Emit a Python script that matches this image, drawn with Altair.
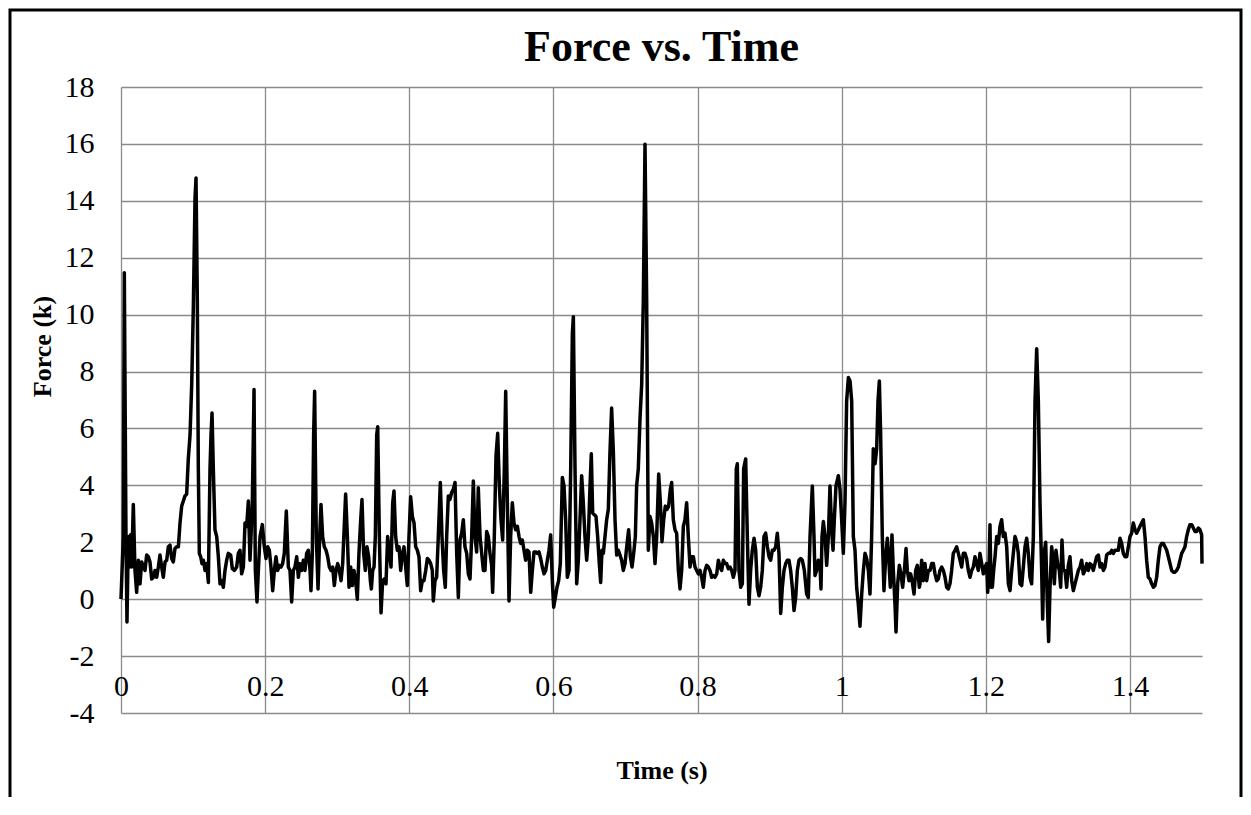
import altair as alt
import pandas as pd

# ---- data (time in s, force in k) ----
t_a = [0.0, 0.0032, 0.0046, 0.0069, 0.0083, 0.0102, 0.0116, 0.0134, 0.0148, 0.0171, 0.0194, 0.0217, 0.0241, 0.0264, 0.0287, 0.0310, 0.0333, 0.0356, 0.0379, 0.0402, 0.0426, 0.0449, 0.0472, 0.0495, 0.0518, 0.0541, 0.0564, 0.0587, 0.0611, 0.0634, 0.0657, 0.0680, 0.0703, 0.0726, 0.0749, 0.0773, 0.0796, 0.0819, 0.0842, 0.0865, 0.0888, 0.0911, 0.0934, 0.0958, 0.0981, 0.1004, 0.1027, 0.1041, 0.1059, 0.1073, 0.1087, 0.1106, 0.1124, 0.1143, 0.1166, 0.1189, 0.1212, 0.1235, 0.1249, 0.1263, 0.1281, 0.1304, 0.1328, 0.1351, 0.1374, 0.1397, 0.1420, 0.1443, 0.1466, 0.1489]
f_a = [0.0, 2.2, 11.47, 2.2, -0.8, 2.2, 1.13, 2.26, 1.13, 3.33, 1.01, 0.24, 1.37, 0.54, 1.31, 1.13, 1.01, 1.55, 1.49, 1.31, 0.71, 0.77, 1.01, 0.77, 1.13, 1.55, 1.13, 0.77, 1.31, 1.37, 1.84, 1.90, 1.43, 1.31, 1.78, 1.84, 1.84, 2.68, 3.27, 3.45, 3.63, 3.69, 4.93, 5.77, 7.55, 10.29, 14.09, 14.80, 10.52, 4.58, 1.61, 1.49, 1.25, 1.37, 1.01, 1.25, 0.59, 4.58, 5.77, 6.54, 4.58, 2.44, 2.20, 1.49, 0.54, 0.65, 0.42, 1.01, 1.37, 1.61]

t_b = [0.1522, 0.1545, 0.1573, 0.1605, 0.1628, 0.1651, 0.1674, 0.1698, 0.1721, 0.1744, 0.1767, 0.1790, 0.1804, 0.1822, 0.1846, 0.1864, 0.1887, 0.1906, 0.1929, 0.1961, 0.1989, 0.2012, 0.2035, 0.2058, 0.2081, 0.2105, 0.2128, 0.2151, 0.2174, 0.2197, 0.2220, 0.2243, 0.2266, 0.2294, 0.2322, 0.2345, 0.2368, 0.2391, 0.2414, 0.2438, 0.2461, 0.2484, 0.2507, 0.2530, 0.2553, 0.2576, 0.2599, 0.2623, 0.2636, 0.2655, 0.2673, 0.2687, 0.2710, 0.2734, 0.2757, 0.2775, 0.2798, 0.2821, 0.2845, 0.2868, 0.2891, 0.2914, 0.2937, 0.2960, 0.2983, 0.3007, 0.3030, 0.3053, 0.3076]
f_b = [1.55, 1.07, 1.01, 1.13, 1.61, 1.72, 0.89, 1.13, 2.68, 2.56, 3.45, 1.37, 2.20, 3.39, 7.37, 1.01, -0.1, 1.01, 2.20, 2.62, 1.84, 1.43, 1.84, 1.72, 1.13, 0.30, 1.01, 1.49, 1.01, 1.19, 1.13, 1.25, 1.61, 3.1, 1.13, 1.01, -0.1, 1.01, 1.13, 1.49, 0.77, 1.25, 1.01, 1.37, 1.01, 1.61, 1.72, 1.01, 0.30, 1.61, 5.77, 7.31, 2.20, 0.36, 2.20, 3.33, 2.20, 1.84, 1.72, 1.49, 1.13, 1.01, 1.13, 0.48, 1.01, 1.25, 1.01, 0.65, 1.25]

t_c = [0.3117, 0.3141, 0.3164, 0.3187, 0.3210, 0.3233, 0.3256, 0.3279, 0.3302, 0.3326, 0.3344, 0.3367, 0.3390, 0.3413, 0.3437, 0.3460, 0.3474, 0.3492, 0.3511, 0.3529, 0.3548, 0.3562, 0.3585, 0.3608, 0.3631, 0.3654, 0.3677, 0.3700, 0.3723, 0.3747, 0.3770, 0.3788, 0.3811, 0.3834, 0.3858, 0.3881, 0.3904, 0.3927, 0.3950, 0.3973, 0.3996, 0.4019, 0.4043, 0.4066, 0.4089, 0.4112, 0.4135, 0.4158, 0.4181, 0.4204, 0.4228, 0.4251, 0.4274, 0.4297, 0.4320, 0.4334, 0.4357, 0.4380, 0.4403, 0.4431, 0.4454, 0.4477, 0.4500, 0.4519, 0.4542, 0.4565, 0.4588, 0.4611, 0.4635]
f_c = [3.7, 2.20, 0.42, 1.13, 0.48, 1.01, 0.65, 0.0, 1.61, 2.79, 3.5, 1.61, 1.01, 1.84, 1.49, 0.65, 0.36, 1.01, 1.13, 2.20, 5.77, 6.06, 2.20, -0.48, 0.65, 0.71, 0.54, 2.20, 1.66, 1.13, 3.39, 3.80, 2.20, 1.72, 1.84, 1.01, 1.61, 1.84, 1.13, 0.48, 2.20, 3.6, 2.91, 2.68, 1.84, 1.72, 1.49, 0.30, 0.65, 0.65, 1.01, 1.43, 1.37, 1.25, 1.01, -0.06, 0.65, 0.77, 2.20, 4.10, 2.20, 1.01, 0.42, 2.20, 3.63, 3.51, 3.75, 3.86, 4.10]

t_d = [0.4658, 0.4681, 0.4704, 0.4727, 0.4750, 0.4773, 0.4797, 0.4820, 0.4843, 0.4866, 0.4889, 0.4912, 0.4935, 0.4958, 0.4982, 0.5005, 0.5028, 0.5051, 0.5074, 0.5097, 0.5120, 0.5143, 0.5157, 0.5180, 0.5204, 0.5227, 0.5250, 0.5273, 0.5296, 0.5319, 0.5338, 0.5361, 0.5384, 0.5407, 0.5430, 0.5453, 0.5476, 0.5500, 0.5523, 0.5546, 0.5569, 0.5592, 0.5615, 0.5638, 0.5661, 0.5685, 0.5708, 0.5731, 0.5754, 0.5777, 0.5800, 0.5823, 0.5846, 0.5870, 0.5893, 0.5916, 0.5939, 0.5962, 0.5985, 0.6004, 0.6027, 0.6050, 0.6073, 0.6096, 0.6124, 0.6147, 0.6170, 0.6193, 0.6217, 0.6240, 0.6263, 0.6277]
f_d = [1.61, 0.06, 2.08, 2.32, 2.79, 1.84, 1.61, 0.89, 0.71, 2.20, 4.15, 2.20, 1.66, 3.92, 2.20, 1.61, 1.01, 1.01, 2.38, 2.20, 1.61, 1.19, 0.24, 2.20, 5.05, 5.83, 3.98, 2.79, 2.08, 4.58, 7.31, 3.39, -0.06, 2.20, 3.39, 2.68, 2.44, 2.56, 2.20, 1.96, 2.08, 1.72, 1.37, 1.72, 1.66, 0.24, 1.01, 1.66, 1.66, 1.61, 1.66, 1.43, 1.13, 0.89, 1.01, 1.37, 1.72, 2.26, 0.65, -0.28, 0.06, 0.42, 0.65, 1.25, 4.28, 3.98, 2.79, 0.77, 1.01, 4.58, 9.33, 9.93]

t_e = [0.6300, 0.6323, 0.6346, 0.6369, 0.6392, 0.6415, 0.6438, 0.6462, 0.6485, 0.6508, 0.6526, 0.6545, 0.6568, 0.6591, 0.6614, 0.6637, 0.6656, 0.6674, 0.6693, 0.6716, 0.6739, 0.6762, 0.6785, 0.6808, 0.6832, 0.6855, 0.6878, 0.6901, 0.6924, 0.6947, 0.6970, 0.6994, 0.7017, 0.7044, 0.7068, 0.7091, 0.7114, 0.7137, 0.7155, 0.7178, 0.7202, 0.7225, 0.7248, 0.7271, 0.7294, 0.7317, 0.7340, 0.7363, 0.7387, 0.7410, 0.7433, 0.7461, 0.7484, 0.7507, 0.7530, 0.7553, 0.7576, 0.7599, 0.7623, 0.7641, 0.7664, 0.7687, 0.7710, 0.7734, 0.7757, 0.7780, 0.7803, 0.7826, 0.7849, 0.7872]
f_e = [4.58, 0.54, 1.37, 2.79, 4.34, 3.39, 2.20, 1.37, 2.20, 3.98, 5.11, 3.03, 2.97, 2.91, 2.20, 1.25, 0.59, 1.72, 1.61, 2.20, 2.79, 3.15, 5.17, 6.72, 5.17, 2.79, 1.55, 1.72, 1.55, 1.37, 1.01, 1.25, 1.84, 2.44, 1.49, 1.13, 1.61, 2.20, 3.98, 4.58, 6.36, 7.55, 10.52, 15.99, 10.52, 1.72, 2.91, 2.68, 2.20, 1.25, 2.20, 4.40, 3.39, 2.02, 2.79, 3.27, 3.15, 3.27, 3.86, 4.10, 2.79, 2.44, 2.32, 1.01, 0.36, 1.01, 2.56, 2.79, 3.39, 2.20]

t_f = [0.7896, 0.7919, 0.7942, 0.7965, 0.7988, 0.8011, 0.8034, 0.8057, 0.8080, 0.8104, 0.8127, 0.8150, 0.8173, 0.8196, 0.8219, 0.8242, 0.8266, 0.8289, 0.8312, 0.8335, 0.8358, 0.8381, 0.8404, 0.8427, 0.8451, 0.8474, 0.8497, 0.8520, 0.8538, 0.8552, 0.8575, 0.8599, 0.8622, 0.8640, 0.8668, 0.8691, 0.8714, 0.8737, 0.8760, 0.8784, 0.8807, 0.8830, 0.8853, 0.8876, 0.8899, 0.8922, 0.8945, 0.8969, 0.8992, 0.9015, 0.9038, 0.9061, 0.9084, 0.9107, 0.9130, 0.9154, 0.9177, 0.9200, 0.9223, 0.9246, 0.9269, 0.9292, 0.9315, 0.9339, 0.9362, 0.9385, 0.9408, 0.9431, 0.9454, 0.9482]
f_f = [1.13, 1.49, 1.49, 1.13, 1.01, 0.89, 1.01, 0.77, 0.42, 1.01, 1.19, 1.13, 1.01, 0.77, 0.83, 0.77, 0.89, 1.37, 1.13, 1.01, 1.37, 1.25, 1.25, 1.07, 1.13, 1.01, 0.77, 1.01, 4.58, 4.76, 1.01, 0.42, 0.54, 4.58, 4.93, 2.20, -0.18, 1.01, 1.72, 2.14, 1.72, 0.42, 0.12, 0.42, 1.01, 2.20, 2.32, 1.84, 1.49, 1.37, 1.72, 1.72, 1.84, 2.32, 1.61, -0.5, 0.42, 1.01, 1.25, 1.37, 1.37, 1.01, 0.42, -0.4, 0.06, 1.01, 1.37, 1.43, 1.37, 1.01]

t_g = [0.9514, 0.9537, 0.9561, 0.9593, 0.9616, 0.9630, 0.9653, 0.9676, 0.9699, 0.9713, 0.9727, 0.9746, 0.9769, 0.9792, 0.9815, 0.9838, 0.9861, 0.9880, 0.9898, 0.9921, 0.9954, 0.9977, 1.0000, 1.0023, 1.0046, 1.0069, 1.0093, 1.0116, 1.0139, 1.0162, 1.0185, 1.0208, 1.0231, 1.0254, 1.0278, 1.0301, 1.0324, 1.0347, 1.0370, 1.0393, 1.0416, 1.0439, 1.0463, 1.0486, 1.0504, 1.0523, 1.0541, 1.0564, 1.0587, 1.0611, 1.0634, 1.0657, 1.0675, 1.0698, 1.0717, 1.0740, 1.0754, 1.0777, 1.0800, 1.0823, 1.0846, 1.0870, 1.0893, 1.0911, 1.0934, 1.0957, 1.0981, 1.1004, 1.1027, 1.1050, 1.1078]
f_g = [0.18, 0.06, 2.20, 3.98, 2.20, 0.83, 1.01, 1.37, 1.25, 0.36, 2.20, 2.73, 2.20, 1.19, 2.20, 3.98, 2.44, 1.72, 2.79, 3.98, 4.34, 3.86, 2.79, 1.61, 3.39, 6.96, 7.79, 7.67, 6.96, 2.20, 1.72, 0.42, -0.18, -0.95, 0.18, 1.01, 1.61, 1.43, 1.01, 0.18, 2.20, 5.29, 4.76, 5.29, 6.96, 7.67, 5.77, 2.20, 0.30, 1.49, 2.14, 1.25, 0.42, 2.26, 1.01, -0.18, -1.15, 0.54, 1.19, 0.89, 0.42, 1.01, 1.78, 1.01, 0.65, 0.89, 0.59, 0.18, 1.01, 1.19, 0.42]

t_h = [1.1087, 1.1110, 1.1133, 1.1156, 1.1179, 1.1203, 1.1226, 1.1249, 1.1272, 1.1295, 1.1318, 1.1341, 1.1364, 1.1388, 1.1411, 1.1434, 1.1457, 1.1480, 1.1503, 1.1526, 1.1549, 1.1573, 1.1596, 1.1619, 1.1642, 1.1665, 1.1688, 1.1711, 1.1734, 1.1758, 1.1781, 1.1804, 1.1827, 1.1850, 1.1873, 1.1896, 1.1919, 1.1943, 1.1966, 1.1989, 1.2012, 1.2026, 1.2044, 1.2058, 1.2072, 1.2091, 1.2109, 1.2128, 1.2151, 1.2174, 1.2197, 1.2220, 1.2243, 1.2266, 1.2290, 1.2313, 1.2336, 1.2359, 1.2382, 1.2405, 1.2428, 1.2451, 1.2475, 1.2498, 1.2521, 1.2544, 1.2567, 1.2590, 1.2613, 1.2636]
f_h = [0.54, 1.37, 0.65, 1.25, 0.65, 1.01, 1.01, 1.25, 1.25, 0.89, 0.65, 0.71, 1.01, 1.13, 1.01, 0.77, 0.42, 0.36, 0.54, 1.01, 1.61, 1.72, 1.84, 1.61, 1.37, 1.13, 1.61, 1.61, 1.43, 1.01, 0.77, 1.01, 1.13, 1.49, 1.25, 1.01, 1.61, 1.25, 0.89, 1.13, 1.25, 0.24, 1.01, 2.62, 0.42, 0.42, 1.01, 1.49, 2.20, 1.96, 2.56, 2.79, 2.20, 2.32, 1.84, 0.54, 0.30, 1.01, 1.61, 2.20, 2.02, 1.61, 0.54, 0.48, 1.13, 1.84, 2.14, 1.61, 0.77, 0.54]

t_i = [1.2660, 1.2683, 1.2706, 1.2729, 1.2752, 1.2775, 1.2789, 1.2808, 1.2831, 1.2854, 1.2872, 1.2891, 1.2914, 1.2932, 1.2951, 1.2974, 1.2997, 1.3020, 1.3039, 1.3057, 1.3076, 1.3099, 1.3122, 1.3145, 1.3168, 1.3192, 1.3215, 1.3238, 1.3261, 1.3284, 1.3307, 1.3330, 1.3353, 1.3377, 1.3400, 1.3423, 1.3446, 1.3469, 1.3492, 1.3515, 1.3538, 1.3562, 1.3585, 1.3608, 1.3631, 1.3654, 1.3677, 1.3700, 1.3723, 1.3747, 1.3770, 1.3793, 1.3816, 1.3839, 1.3862, 1.3885, 1.3908, 1.3932, 1.3955, 1.3978, 1.4001, 1.4024, 1.4047, 1.4070, 1.4093, 1.4117, 1.4140, 1.4163, 1.4186, 1.4209, 1.4232, 1.4255]
f_i = [2.20, 6.96, 8.80, 6.96, 3.39, 1.01, -0.7, 1.61, 2.0, -0.18, -1.49, 0.42, 1.84, 1.43, 0.54, 1.72, 1.25, 1.01, 0.42, 2.08, 1.01, 1.01, 0.42, 1.19, 1.49, 0.65, 0.30, 0.54, 0.77, 1.01, 1.13, 1.37, 0.89, 1.01, 1.25, 1.01, 1.25, 1.19, 1.01, 1.25, 1.49, 1.55, 1.13, 1.25, 1.01, 1.13, 1.55, 1.61, 1.61, 1.72, 1.61, 1.72, 1.72, 1.72, 2.14, 1.96, 1.61, 1.49, 1.49, 1.84, 2.20, 2.32, 2.68, 2.44, 2.32, 2.44, 2.56, 2.68, 2.79, 2.20, 1.37, 0.77]

t_j = [1.4278, 1.4302, 1.4325, 1.4348, 1.4371, 1.4394, 1.4417, 1.4440, 1.4463, 1.4487, 1.4510, 1.4533, 1.4556, 1.4579, 1.4602, 1.4625, 1.4648, 1.4672, 1.4695, 1.4718, 1.4741, 1.4764, 1.4787, 1.4810, 1.4833, 1.4857, 1.4880, 1.4903, 1.4926, 1.4949, 1.4972, 1.4995, 1.5]
f_j = [0.71, 0.54, 0.42, 0.48, 0.77, 1.37, 1.84, 1.96, 1.96, 1.84, 1.72, 1.49, 1.25, 1.01, 0.95, 0.95, 1.01, 1.13, 1.37, 1.61, 1.72, 1.84, 2.20, 2.44, 2.62, 2.62, 2.50, 2.38, 2.38, 2.50, 2.44, 2.26, 1.25]

x_ticks = [0, 0.2, 0.4, 0.6, 0.8, 1, 1.2, 1.4]
y_ticks = [-4, -2, 0, 2, 4, 6, 8, 10, 12, 14, 16, 18]

times = t_a + t_b + t_c + t_d + t_e + t_f + t_g + t_h + t_i + t_j
forces = f_a + f_b + f_c + f_d + f_e + f_f + f_g + f_h + f_i + f_j
df = pd.DataFrame({"Time": times, "Force": forces})

W, H = 1081, 626
FONT = "Liberation Serif"
GRID = "#8a8a8a"

line = alt.Chart(df).mark_line(color="#000000", strokeWidth=3.5, strokeJoin="round").encode(
    x=alt.X("Time:Q",
            scale=alt.Scale(domain=[0, 1.5], nice=False, zero=False),
            axis=alt.Axis(values=x_ticks, title="Time (s)", labelExpr="'' + datum.value",
                          grid=True, gridColor=GRID, gridWidth=1.3, domain=False,
                          ticks=False, tickSize=0, labelPadding=-18, labelBaseline="alphabetic",
                          labelFont=FONT, labelFontSize=30, labelColor="#000000", labelAngle=0,
                          labelFlush=False, labelOverlap=False,
                          titleFont=FONT, titleFontSize=26, titleFontWeight="bold",
                          titleColor="#000000", titleY=57, titleBaseline="middle")),
    y=alt.Y("Force:Q",
            scale=alt.Scale(domain=[-4, 18], nice=False, zero=False),
            axis=alt.Axis(values=y_ticks, title="Force (k)", labelExpr="'' + datum.value",
                          grid=True, gridColor=GRID, gridWidth=1.3, domain=False,
                          ticks=False, tickSize=0, labelPadding=27,
                          labelFont=FONT, labelFontSize=30, labelColor="#000000",
                          labelOverlap=False, labelFlush=False,
                          titleFont=FONT, titleFontSize=26, titleFontWeight="bold",
                          titleColor="#000000", titleX=-79, titleY=259,
                          titleBaseline="middle", titleAngle=270)),
)

border = alt.Chart(pd.DataFrame({"k": [0]})).mark_rect(
    fillOpacity=0, stroke="#000000", strokeWidth=3
).encode(x=alt.value(-111), x2=alt.value(W + 39), y=alt.value(-77), y2=alt.value(H + 160))

chart = alt.layer(border, line).properties(
    width=W, height=H,
    padding={"left": 113, "top": 79, "right": 41, "bottom": 84},
    autosize=alt.AutoSizeParams(type="none"),
    background="white",
    title=alt.TitleParams("Force vs. Time", font=FONT, fontSize=44, fontWeight="bold",
                          color="#000000", anchor="middle", frame="group", offset=0,
                          baseline="alphabetic", dy=96),
).configure_view(strokeWidth=0)

chart.save("out.html", embed_options={"renderer": "svg", "actions": False})
